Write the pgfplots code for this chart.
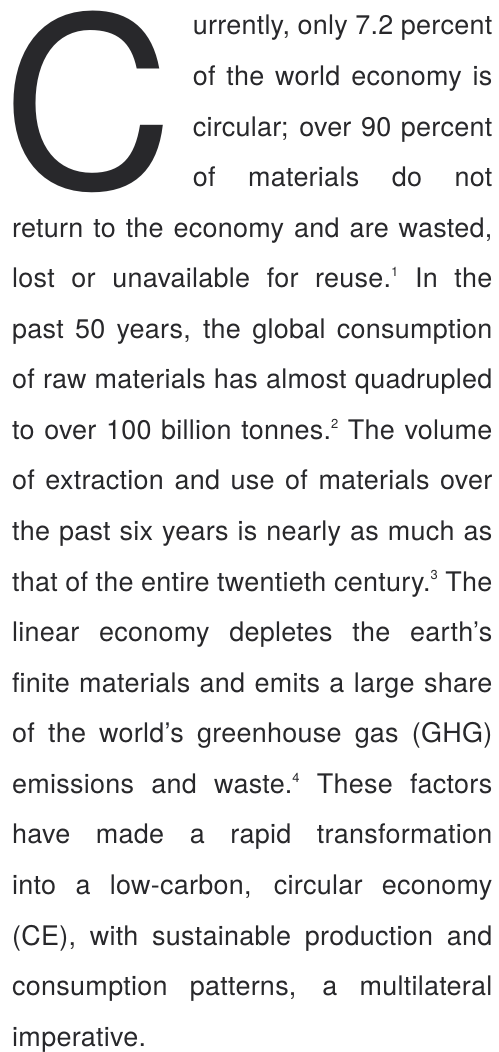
\documentclass[border=0pt]{standalone}
\usepackage{fontspec}
\setmainfont{TeX Gyre Heros}
\newfontfamily\bodyfont{TeX Gyre Heros}[LetterSpace=1]
\usepackage{pgfplots}
\pgfplotsset{compat=1.18}
\definecolor{ink}{HTML}{28282B}
\newcommand{\fn}[1]{\raisebox{0.42em}{\fontsize{13pt}{13pt}\selectfont #1}}
\newcommand{\jline}[4]{\node[anchor=base west,inner sep=0pt,text=ink,font=\bodyfont\fontsize{27pt}{27pt}\selectfont] at (axis cs:#1,{1052-(35+(#2-1)*50.65)}) {\hbox to #3pt{\spaceskip=0.278em plus 3em minus 0.12em #4}};}
\begin{document}
\begin{tikzpicture}
\begin{axis}[scale only axis, width=499pt, height=1052pt,
  xmin=0, xmax=499, ymin=0, ymax=1052, hide axis, clip=false]
\addplot[draw=none] coordinates {(0,0) (499,1052)};
\node[anchor=base west,inner sep=0pt,text=ink,font=\fontsize{238pt}{238pt}\selectfont] at (axis cs:2.5,{1052-188.5}) {\smash{C}};
\jline{193}{1}{300}{urrently, only 7.2 percent}
\jline{193}{2}{300}{of the world economy is}
\jline{193}{3}{300}{circular; over 90 percent}
\jline{193}{4}{300}{of materials do not}
\jline{12}{5}{481}{return to the economy and are wasted,}
\jline{12}{6}{481}{lost or unavailable for reuse.\fn{1} In the}
\jline{12}{7}{481}{past 50 years, the global consumption}
\jline{12}{8}{481}{of raw materials has almost quadrupled}
\jline{12}{9}{481}{to over 100 billion tonnes.\fn{2} The volume}
\jline{12}{10}{481}{of extraction and use of materials over}
\jline{12}{11}{481}{the past six years is nearly as much as}
\jline{12}{12}{481}{that of the entire twentieth century.\fn{3} The}
\jline{12}{13}{481}{linear economy depletes the earth’s}
\jline{12}{14}{481}{finite materials and emits a large share}
\jline{12}{15}{481}{of the world’s greenhouse gas (GHG)}
\jline{12}{16}{481}{emissions and waste.\fn{4} These factors}
\jline{12}{17}{481}{have made a rapid transformation}
\jline{12}{18}{481}{into a low-carbon, circular economy}
\jline{12}{19}{481}{(CE), with sustainable production and}
\jline{12}{20}{481}{consumption patterns, a multilateral}
\node[anchor=base west,inner sep=0pt,text=ink,font=\bodyfont\fontsize{27pt}{27pt}\selectfont] at (axis cs:12,{1052-(35+20*50.65)}) {imperative.};
\end{axis}
\end{tikzpicture}
\end{document}
